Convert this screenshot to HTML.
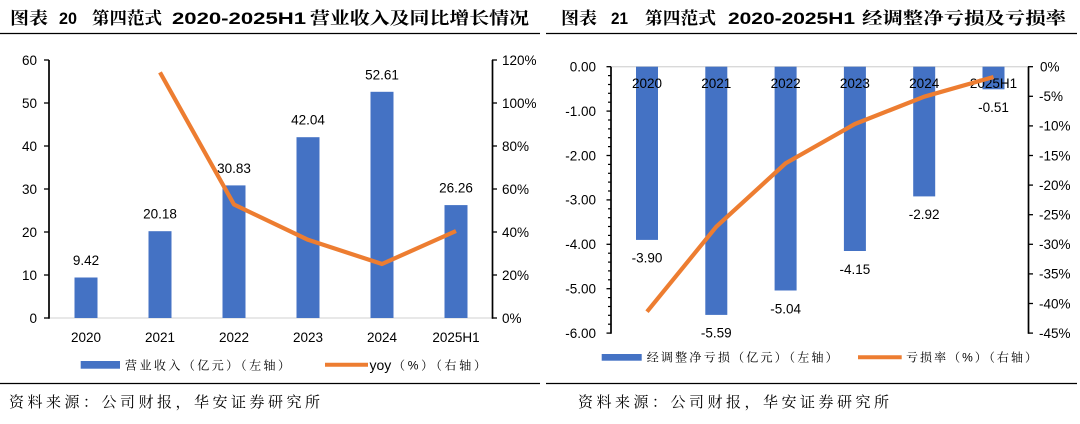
<!DOCTYPE html>
<html>
<head>
<meta charset="utf-8">
<style>
html,body{margin:0;padding:0;background:#fff;}
svg{display:block;}
.t{font-family:"Liberation Sans","Noto Serif CJK SC",serif;font-weight:bold;font-size:17px;fill:#000;}
.tc{font-family:"Noto Serif CJK SC","Liberation Serif",serif;font-weight:bold;font-size:17px;fill:#000;}
.ax{font-family:"Liberation Sans",Arial,sans-serif;font-size:13.5px;fill:#000;}
.lg{font-family:"Liberation Sans","Noto Serif CJK SC",serif;font-size:12px;fill:#000;}
.lgl{font-family:"Liberation Sans",Arial,sans-serif;font-size:14px;fill:#000;}
.src{font-family:"Noto Serif CJK SC","Liberation Serif",serif;font-size:15px;fill:#000;}
</style>
</head>
<body>
<svg width="1080" height="424" viewBox="0 0 1080 424" xmlns="http://www.w3.org/2000/svg">
<rect width="1080" height="424" fill="#fff"/>

<!-- ===== Titles ===== -->
<text class="tc" x="10" y="24" textLength="38" lengthAdjust="spacingAndGlyphs">图表</text>
<text class="t" x="59" y="24" textLength="18" lengthAdjust="spacingAndGlyphs">20</text>
<text class="tc" x="92" y="24" textLength="70" lengthAdjust="spacingAndGlyphs">第四范式</text>
<text class="t" x="172" y="24" textLength="134" lengthAdjust="spacingAndGlyphs">2020-2025H1</text>
<text class="tc" x="310" y="24" textLength="219" lengthAdjust="spacingAndGlyphs">营业收入及同比增长情况</text>

<text class="tc" x="561" y="24" textLength="36" lengthAdjust="spacingAndGlyphs">图表</text>
<text class="t" x="611" y="24" textLength="17" lengthAdjust="spacingAndGlyphs">21</text>
<text class="tc" x="645" y="24" textLength="71" lengthAdjust="spacingAndGlyphs">第四范式</text>
<text class="t" x="728" y="24" textLength="127" lengthAdjust="spacingAndGlyphs">2020-2025H1</text>
<text class="tc" x="862" y="24" textLength="204" lengthAdjust="spacingAndGlyphs">经调整净亏损及亏损率</text>

<!-- rules -->
<line x1="0" y1="33.5" x2="540" y2="33.5" stroke="#000" stroke-width="1.3"/>
<line x1="546" y1="33.5" x2="1077" y2="33.5" stroke="#000" stroke-width="1.3"/>
<line x1="0" y1="383.5" x2="540" y2="383.5" stroke="#000" stroke-width="1.3"/>
<line x1="546" y1="383.5" x2="1077" y2="383.5" stroke="#000" stroke-width="1.3"/>

<!-- ===== LEFT CHART ===== -->
<line x1="49" y1="318" x2="492" y2="318" stroke="#d9d9d9" stroke-width="1.3"/>
<g fill="#4472C4">
<rect x="74.5" y="277.5" width="23" height="40.5"/>
<rect x="148.5" y="231.2" width="23" height="86.8"/>
<rect x="222.5" y="185.4" width="23" height="132.6"/>
<rect x="296.5" y="137.2" width="23" height="180.8"/>
<rect x="370.5" y="91.8" width="23" height="226.2"/>
<rect x="444.5" y="205.1" width="23" height="112.9"/>
</g>
<g class="ax" text-anchor="middle">
<text x="86" y="265">9.42</text>
<text x="160" y="218.7">20.18</text>
<text x="234" y="172.9">30.83</text>
<text x="308" y="124.7">42.04</text>
<text x="382" y="79.3">52.61</text>
<text x="456" y="192.6">26.26</text>
</g>
<polyline points="160,72.4 234,204.5 308,239.8 382,264 456,231" fill="none" stroke="#ED7D31" stroke-width="4.2" stroke-linejoin="round"/>
<line x1="49" y1="60" x2="49" y2="318.7" stroke="#000" stroke-width="1.7"/>
<g stroke="#000" stroke-width="1.3">
<line x1="44" y1="60" x2="49" y2="60"/>
<line x1="44" y1="103" x2="49" y2="103"/>
<line x1="44" y1="146" x2="49" y2="146"/>
<line x1="44" y1="189" x2="49" y2="189"/>
<line x1="44" y1="232" x2="49" y2="232"/>
<line x1="44" y1="275" x2="49" y2="275"/>
<line x1="44" y1="318" x2="49" y2="318"/>
</g>
<g class="ax" text-anchor="end">
<text x="37" y="64.8">60</text>
<text x="37" y="107.8">50</text>
<text x="37" y="150.8">40</text>
<text x="37" y="193.8">30</text>
<text x="37" y="236.8">20</text>
<text x="37" y="279.8">10</text>
<text x="37" y="322.8">0</text>
</g>
<line x1="492.5" y1="60" x2="492.5" y2="318.7" stroke="#000" stroke-width="1.7"/>
<g stroke="#000" stroke-width="1.3">
<line x1="492" y1="60" x2="497" y2="60"/>
<line x1="492" y1="103" x2="497" y2="103"/>
<line x1="492" y1="146" x2="497" y2="146"/>
<line x1="492" y1="189" x2="497" y2="189"/>
<line x1="492" y1="232" x2="497" y2="232"/>
<line x1="492" y1="275" x2="497" y2="275"/>
<line x1="492" y1="318" x2="497" y2="318"/>
</g>
<g class="ax">
<text x="502" y="64.8">120%</text>
<text x="502" y="107.8">100%</text>
<text x="502" y="150.8">80%</text>
<text x="502" y="193.8">60%</text>
<text x="502" y="236.8">40%</text>
<text x="502" y="279.8">20%</text>
<text x="502" y="322.8">0%</text>
</g>
<g class="ax" text-anchor="middle">
<text x="86" y="341.8">2020</text>
<text x="160" y="341.8">2021</text>
<text x="234" y="341.8">2022</text>
<text x="308" y="341.8">2023</text>
<text x="382" y="341.8">2024</text>
<text x="456" y="341.8">2025H1</text>
</g>
<rect x="80.7" y="361" width="39.3" height="7.7" fill="#4472C4"/>
<text class="lg" x="125" y="369.3" textLength="165" lengthAdjust="spacing">营业收入（亿元）（左轴）</text>
<line x1="325" y1="364.8" x2="368" y2="364.8" stroke="#ED7D31" stroke-width="4"/>
<text class="lgl" x="369.5" y="369.8">yoy</text>
<text class="lg" x="393" y="369.3" textLength="93" lengthAdjust="spacing">（%）（右轴）</text>

<!-- ===== RIGHT CHART ===== -->
<line x1="611" y1="66.7" x2="1028" y2="66.7" stroke="#d9d9d9" stroke-width="1.3"/>
<g fill="#4472C4">
<rect x="636" y="66.7" width="22" height="173.2"/>
<rect x="705.3" y="66.7" width="22" height="248.2"/>
<rect x="774.6" y="66.7" width="22" height="223.8"/>
<rect x="843.9" y="66.7" width="22" height="184.3"/>
<rect x="913.2" y="66.7" width="22" height="129.7"/>
<rect x="982.5" y="66.7" width="22" height="22.6"/>
</g>
<g class="ax" text-anchor="middle">
<text x="647" y="87.8">2020</text>
<text x="716.3" y="87.8">2021</text>
<text x="785.6" y="87.8">2022</text>
<text x="854.9" y="87.8">2023</text>
<text x="924.2" y="87.8">2024</text>
<text x="993.5" y="87.8">2025H1</text>
</g>
<g class="ax" text-anchor="middle">
<text x="647" y="262.7">-3.90</text>
<text x="716.3" y="337.7">-5.59</text>
<text x="785.6" y="313.3">-5.04</text>
<text x="854.9" y="273.8">-4.15</text>
<text x="924.2" y="219.2">-2.92</text>
<text x="993.5" y="112.1">-0.51</text>
</g>
<polyline points="647,311.7 716.3,226.7 785.6,163.3 854.9,124 924.2,96.7 993.5,77" fill="none" stroke="#ED7D31" stroke-width="4.2" stroke-linejoin="round"/>
<line x1="611" y1="66.7" x2="611" y2="333.8" stroke="#000" stroke-width="1.7"/>
<g stroke="#000" stroke-width="1.2">
<line x1="608" y1="75.6" x2="611" y2="75.6"/>
<line x1="608" y1="84.5" x2="611" y2="84.5"/>
<line x1="608" y1="93.3" x2="611" y2="93.3"/>
<line x1="608" y1="102.2" x2="611" y2="102.2"/>
<line x1="608" y1="120" x2="611" y2="120"/>
<line x1="608" y1="128.9" x2="611" y2="128.9"/>
<line x1="608" y1="137.7" x2="611" y2="137.7"/>
<line x1="608" y1="146.6" x2="611" y2="146.6"/>
<line x1="608" y1="164.4" x2="611" y2="164.4"/>
<line x1="608" y1="173.3" x2="611" y2="173.3"/>
<line x1="608" y1="182.1" x2="611" y2="182.1"/>
<line x1="608" y1="191" x2="611" y2="191"/>
<line x1="608" y1="208.8" x2="611" y2="208.8"/>
<line x1="608" y1="217.7" x2="611" y2="217.7"/>
<line x1="608" y1="226.5" x2="611" y2="226.5"/>
<line x1="608" y1="235.4" x2="611" y2="235.4"/>
<line x1="608" y1="253.2" x2="611" y2="253.2"/>
<line x1="608" y1="262.1" x2="611" y2="262.1"/>
<line x1="608" y1="270.9" x2="611" y2="270.9"/>
<line x1="608" y1="279.8" x2="611" y2="279.8"/>
<line x1="608" y1="297.6" x2="611" y2="297.6"/>
<line x1="608" y1="306.5" x2="611" y2="306.5"/>
<line x1="608" y1="315.3" x2="611" y2="315.3"/>
<line x1="608" y1="324.2" x2="611" y2="324.2"/>
</g>
<g stroke="#000" stroke-width="1.3">
<line x1="606.5" y1="66.7" x2="611" y2="66.7"/>
<line x1="606.5" y1="111.1" x2="611" y2="111.1"/>
<line x1="606.5" y1="155.5" x2="611" y2="155.5"/>
<line x1="606.5" y1="199.9" x2="611" y2="199.9"/>
<line x1="606.5" y1="244.3" x2="611" y2="244.3"/>
<line x1="606.5" y1="288.7" x2="611" y2="288.7"/>
<line x1="606.5" y1="333.1" x2="611" y2="333.1"/>
</g>
<g class="ax" text-anchor="end">
<text x="596" y="71.5">0.00</text>
<text x="596" y="115.9">-1.00</text>
<text x="596" y="160.3">-2.00</text>
<text x="596" y="204.7">-3.00</text>
<text x="596" y="249.1">-4.00</text>
<text x="596" y="293.5">-5.00</text>
<text x="596" y="337.9">-6.00</text>
</g>
<line x1="1028.5" y1="66.7" x2="1028.5" y2="333.8" stroke="#000" stroke-width="1.7"/>
<g stroke="#000" stroke-width="1.3">
<line x1="1028" y1="66.7" x2="1033" y2="66.7"/>
<line x1="1028" y1="96.3" x2="1033" y2="96.3"/>
<line x1="1028" y1="125.9" x2="1033" y2="125.9"/>
<line x1="1028" y1="155.5" x2="1033" y2="155.5"/>
<line x1="1028" y1="185.1" x2="1033" y2="185.1"/>
<line x1="1028" y1="214.7" x2="1033" y2="214.7"/>
<line x1="1028" y1="244.3" x2="1033" y2="244.3"/>
<line x1="1028" y1="273.9" x2="1033" y2="273.9"/>
<line x1="1028" y1="303.5" x2="1033" y2="303.5"/>
<line x1="1028" y1="333.1" x2="1033" y2="333.1"/>
</g>
<g class="ax">
<text x="1040" y="71.5">0%</text>
<text x="1039" y="101.1">-5%</text>
<text x="1039" y="130.7">-10%</text>
<text x="1039" y="160.3">-15%</text>
<text x="1039" y="189.9">-20%</text>
<text x="1039" y="219.5">-25%</text>
<text x="1039" y="249.1">-30%</text>
<text x="1039" y="278.7">-35%</text>
<text x="1039" y="308.3">-40%</text>
<text x="1039" y="337.9">-45%</text>
</g>
<rect x="601.7" y="354" width="40" height="6.7" fill="#4472C4"/>
<text class="lg" x="646.7" y="361.6" textLength="191" lengthAdjust="spacing">经调整净亏损（亿元）（左轴）</text>
<line x1="858" y1="357.3" x2="901.7" y2="357.3" stroke="#ED7D31" stroke-width="4"/>
<text class="lg" x="906" y="361.6" textLength="131" lengthAdjust="spacing">亏损率（%）（右轴）</text>

<!-- ===== Sources ===== -->
<text class="src" x="9" y="407" textLength="311" lengthAdjust="spacing">资料来源：公司财报，华安证券研究所</text>
<text class="src" x="578" y="407" textLength="311" lengthAdjust="spacing">资料来源：公司财报，华安证券研究所</text>
</svg>
</body>
</html>
